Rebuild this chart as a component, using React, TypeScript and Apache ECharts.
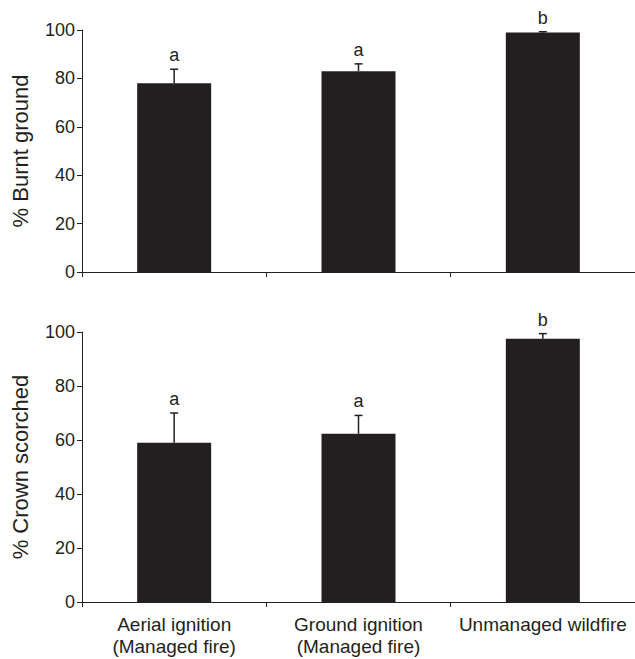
import React, { useEffect, useRef } from "react";
import * as echarts from "echarts";

const categories = ["Aerial ignition\n(Managed fire)", "Ground ignition\n(Managed fire)", "Unmanaged wildfire"];
const burntMeans = [78, 83, 99];
const burntErrors = [5.8, 3, 0.3];
const burntLetters = ["a", "a", "b"];
const crownMeans = [59, 62.3, 97.5];
const crownErrors = [11, 6.8, 1.9];
const crownLetters = ["a", "a", "b"];
const yTicks = { min: 0, max: 100, interval: 20 };

const FONT = '"Liberation Sans", Arial, Helvetica, sans-serif';
const INK = "#231f20";

function errorSeries(idx: number, means: number[], errs: number[], letters: string[]) {
  return {
    type: "custom",
    xAxisIndex: idx,
    yAxisIndex: idx,
    silent: true,
    z: 5,
    data: means.map((m, i) => [i, m, errs[i]]),
    renderItem: (params: any, api: any) => {
      const i = api.value(0);
      const m = api.value(1);
      const e = api.value(2);
      const base = api.coord([i, m]);
      const top = api.coord([i, m + e]);
      const hw = 4;
      return {
        type: "group",
        children: [
          {
            type: "line",
            shape: { x1: base[0], y1: base[1], x2: top[0], y2: top[1] },
            style: { stroke: INK, lineWidth: 1.5 },
          },
          {
            type: "line",
            shape: { x1: top[0] - hw, y1: top[1], x2: top[0] + hw, y2: top[1] },
            style: { stroke: INK, lineWidth: 1.5 },
          },
          {
            type: "text",
            x: top[0],
            y: top[1] - 5,
            style: {
              text: letters[params.dataIndex],
              fill: INK,
              font: `18px ${FONT}`,
              textAlign: "center",
              textVerticalAlign: "bottom",
            },
          },
        ],
      };
    },
  };
}

export default function App() {
  const ref = useRef<HTMLDivElement>(null);
  useEffect(() => {
    if (!ref.current) return;
    const chart = echarts.init(ref.current, null, { renderer: "svg" });
    const axisLine = { show: true, lineStyle: { color: INK, width: 1 } };
    const yAxisCommon = (name: string, idx: number) => ({
      type: "value",
      gridIndex: idx,
      min: yTicks.min,
      max: yTicks.max,
      interval: yTicks.interval,
      name,
      nameLocation: "middle",
      nameGap: 51,
      nameTextStyle: { fontSize: 22, color: INK, fontFamily: FONT },
      axisLine,
      axisTick: { show: true, length: 5, lineStyle: { color: INK } },
      splitLine: { show: false },
      axisLabel: { fontSize: 18, color: INK, fontFamily: FONT, margin: 7 },
    });
    const xAxisCommon = (idx: number, showLabel: boolean) => ({
      type: "category",
      gridIndex: idx,
      data: categories,
      axisLine,
      axisTick: { show: true, length: 5, lineStyle: { color: INK } },
      axisLabel: {
        show: showLabel,
        fontSize: 19,
        color: INK,
        fontFamily: FONT,
        lineHeight: 22,
        margin: 11,
        interval: 0,
      },
    });
    chart.setOption({
      animation: false,
      backgroundColor: "#ffffff",
      grid: [
        { left: 82, top: 30, width: 553, height: 242 },
        { left: 82, top: 332, width: 553, height: 270 },
      ],
      xAxis: [xAxisCommon(0, false), xAxisCommon(1, true)],
      yAxis: [yAxisCommon("% Burnt ground", 0), yAxisCommon("% Crown scorched", 1)],
      series: [
        {
          type: "bar",
          xAxisIndex: 0,
          yAxisIndex: 0,
          data: burntMeans,
          barWidth: 74,
          itemStyle: { color: INK },
        },
        errorSeries(0, burntMeans, burntErrors, burntLetters),
        {
          type: "bar",
          xAxisIndex: 1,
          yAxisIndex: 1,
          data: crownMeans,
          barWidth: 74,
          itemStyle: { color: INK },
        },
        errorSeries(1, crownMeans, crownErrors, crownLetters),
      ],
    });
    return () => chart.dispose();
  }, []);
  return (
    <div
      ref={ref}
      style={{ position: "absolute", left: 0, top: 0, width: 635, height: 659, background: "#fff" }}
    />
  );
}
